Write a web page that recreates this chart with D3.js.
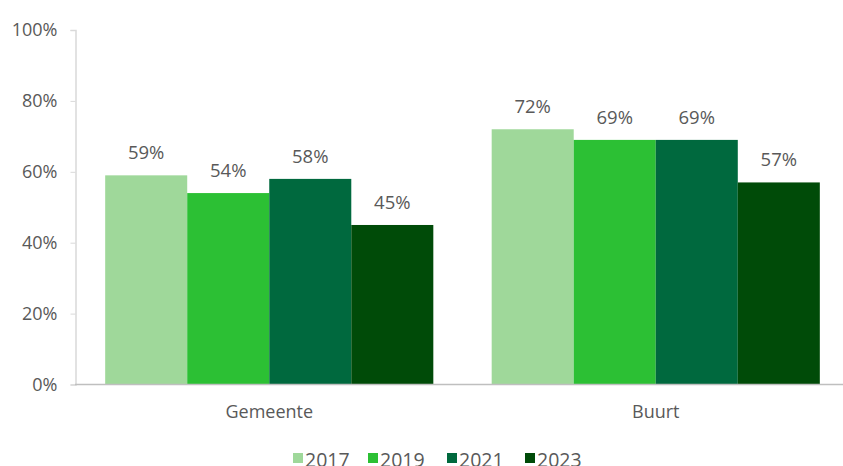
<!DOCTYPE html>
<html>
<head>
<meta charset="utf-8">
<script src="https://cdn.jsdelivr.net/npm/d3@7"></script>
<style>
  html, body { margin: 0; padding: 0; background: #fff; }
  svg { display: block; font-family: "Open Sans", sans-serif; }
</style>
</head>
<body>
<div id="chart"></div>
<script>
const categories = ["Gemeente", "Buurt"];
const years = ["2017", "2019", "2021", "2023"];
const values2017 = [59, 72];
const values2019 = [54, 69];
const values2021 = [58, 69];
const values2023 = [45, 57];
const yTicks = [0, 20, 40, 60, 80, 100];
const colors = ["#9fd89a", "#2cc034", "#00693e", "#004b08"];

const seriesValues = [values2017, values2019, values2021, values2023];

const W = 843, H = 466;
const svg = d3.select("#chart").append("svg").attr("width", W).attr("height", H);

const y = d3.scaleLinear().domain([0, 100]).range([384.5, 30]);
const x0 = d3.scaleBand().domain(categories).range([76, 849]).paddingInner(0.151).paddingOuter(0.0755);
const x1 = d3.scaleBand().domain(years).range([0, x0.bandwidth()]).padding(0);

// y axis
const yAxis = d3.axisLeft(y).tickValues(yTicks).tickFormat(d => d + "%").tickSize(5).tickPadding(13);
const ga = svg.append("g").attr("transform", "translate(75.5,0)").call(yAxis);
ga.select(".domain").attr("stroke", "#d9d9d9").attr("stroke-width", 1.5);
ga.selectAll(".tick line").attr("stroke", "#d9d9d9");
ga.selectAll(".tick text").attr("fill", "#595959").style("font-size", "18px").style("font-family", "'Open Sans', sans-serif");

// bars
categories.forEach((cat, ci) => {
  const g = svg.append("g").attr("transform", `translate(${x0(cat)},0)`);
  years.forEach((yr, si) => {
    const v = seriesValues[si][ci];
    g.append("rect")
      .attr("x", x1(yr))
      .attr("y", y(v))
      .attr("width", x1.bandwidth())
      .attr("height", y(0) - y(v))
      .attr("fill", colors[si]);
    g.append("text")
      .attr("x", x1(yr) + x1.bandwidth() / 2)
      .attr("y", y(v) - 16)
      .attr("text-anchor", "middle")
      .attr("fill", "#595959")
      .style("font-size", "18.5px")
      .text(v + "%");
  });
});

// baseline
svg.append("line").attr("x1", 75).attr("x2", W).attr("y1", y(0)).attr("y2", y(0))
  .attr("stroke", "#bfbfbf").attr("stroke-width", 1.5);

// x axis category labels
const xAxis = d3.axisBottom(x0).tickSize(0).tickPadding(0);
const gx = svg.append("g").attr("transform", `translate(0,${y(0)})`).call(xAxis);
gx.select(".domain").remove();
gx.selectAll(".tick text").attr("fill", "#595959").attr("dy", null).attr("y", 33)
  .style("font-size", "18px").style("font-family", "'Open Sans', sans-serif");

// legend
const legendX = [293, 368, 447, 525];
const lg = svg.append("g");
years.forEach((yr, i) => {
  lg.append("rect").attr("x", legendX[i]).attr("y", 453).attr("width", 10).attr("height", 10).attr("fill", colors[i]);
  lg.append("text").attr("x", legendX[i] + 12).attr("y", 467).attr("fill", "#595959")
    .style("font-size", "19.5px").text(yr);
});
</script>
</body>
</html>
